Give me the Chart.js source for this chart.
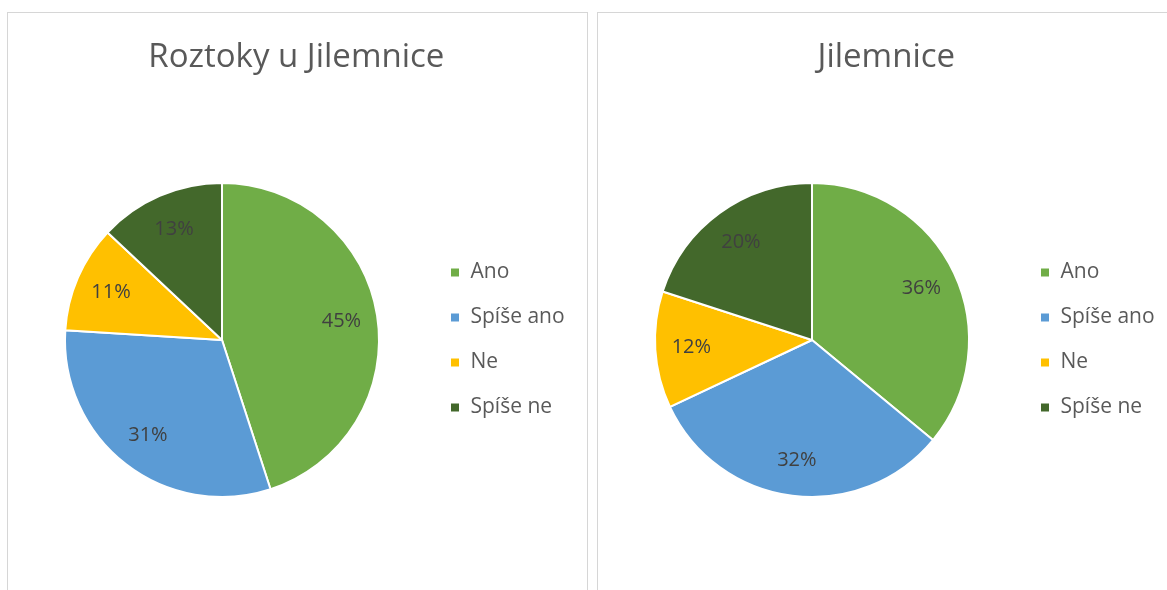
<!DOCTYPE html>
<html>
<head>
<meta charset="utf-8">
<script src="https://cdn.jsdelivr.net/npm/chart.js@4.4.1/dist/chart.umd.min.js"></script>
<style>
    body { margin: 0; background: #ffffff; overflow: hidden; width: 1167px; height: 590px; position: relative; }
    .panel { position: absolute; top: 12px; width: 581px; height: 600px; box-sizing: border-box; border: 1px solid #d6d6d6; background: #fff; }
    .panel canvas { position: absolute; left: 0; top: 0; }
</style>
</head>
<body>
<div class="panel" style="left: 7px;"><canvas id="chartRoztoky" width="579" height="577"></canvas></div>
<div class="panel" style="left: 597px;"><canvas id="chartJilemnice" width="579" height="577"></canvas></div>

<script>
// Kategorie odpovědí
const categories = ['Ano', 'Spíše ano', 'Ne', 'Spíše ne'];

// Hodnoty v procentech
const roztokyValues = [45, 31, 11, 13];
const jilemniceValues = [36, 32, 12, 20];

const sliceColors = ['#70AD47', '#5B9BD5', '#FFC000', '#43682B'];

const CANVAS_W = 579;
const PIE_CX = 214;        // střed koláče v canvasu
const LEGEND_FONT = 21;
const LEGEND_PAD = 24;
const LEGEND_BOX = 10;
const LEGEND_LEFT = 418;   // levý okraj legendy v canvasu

// Šířka legendy, aby zůstala na pevném místě
function legendRightPadding() {
    const mctx = document.createElement('canvas').getContext('2d');
    mctx.font = LEGEND_FONT + 'px "Open Sans"';
    const maxText = Math.max(...categories.map(c => mctx.measureText(c).width));
    const legendWidth = LEGEND_PAD + LEGEND_BOX + LEGEND_FONT / 2 + maxText + 10;
    return Math.max(0, CANVAS_W - LEGEND_LEFT - legendWidth);
}

// Popisky procent uvnitř výsečí
const percentLabels = {
    id: 'percentLabels',
    afterDatasetsDraw(chart) {
        const ctx = chart.ctx;
        const meta = chart.getDatasetMeta(0);
        const data = chart.data.datasets[0].data;
        const total = data.reduce((sum, v) => sum + v, 0);
        ctx.save();
        ctx.font = '20px "Open Sans"';
        ctx.fillStyle = '#404040';
        ctx.textAlign = 'center';
        ctx.textBaseline = 'middle';
        meta.data.forEach((arc, i) => {
            const p = arc.getProps(['x', 'y', 'startAngle', 'endAngle', 'outerRadius'], true);
            const mid = (p.startAngle + p.endAngle) / 2;
            const r = p.outerRadius * 0.77;
            const pct = Math.round(data[i] / total * 100);
            ctx.fillText(pct + '%', p.x + Math.cos(mid) * r, p.y + Math.sin(mid) * r);
        });
        ctx.restore();
    }
};

function makePie(canvasId, title, values) {
    const ctx = document.getElementById(canvasId).getContext('2d');
    const padRight = legendRightPadding();
    return new Chart(ctx, {
        type: 'pie',
        data: {
            labels: categories,
            datasets: [{
                data: values,
                backgroundColor: sliceColors,
                borderColor: '#ffffff',
                borderWidth: 2
            }]
        },
        options: {
            responsive: false,
            animation: false,
            events: [],
            layout: {
                padding: { left: 2 * PIE_CX - LEGEND_LEFT, right: padRight, top: 0, bottom: 92 }
            },
            plugins: {
                title: {
                    display: true,
                    text: title,
                    color: '#595959',
                    font: { family: '"Open Sans"', size: 33, weight: 'normal' },
                    padding: { top: 25, bottom: 104.4 }
                },
                legend: {
                    position: 'right',
                    fullSize: false,
                    labels: {
                        color: '#595959',
                        font: { family: '"Open Sans"', size: LEGEND_FONT },
                        boxWidth: LEGEND_BOX,
                        boxHeight: LEGEND_BOX,
                        padding: LEGEND_PAD
                    }
                },
                tooltip: { enabled: false }
            }
        },
        plugins: [percentLabels]
    });
}

makePie('chartRoztoky', 'Roztoky u Jilemnice', roztokyValues);
makePie('chartJilemnice', 'Jilemnice', jilemniceValues);
</script>
</body>
</html>
